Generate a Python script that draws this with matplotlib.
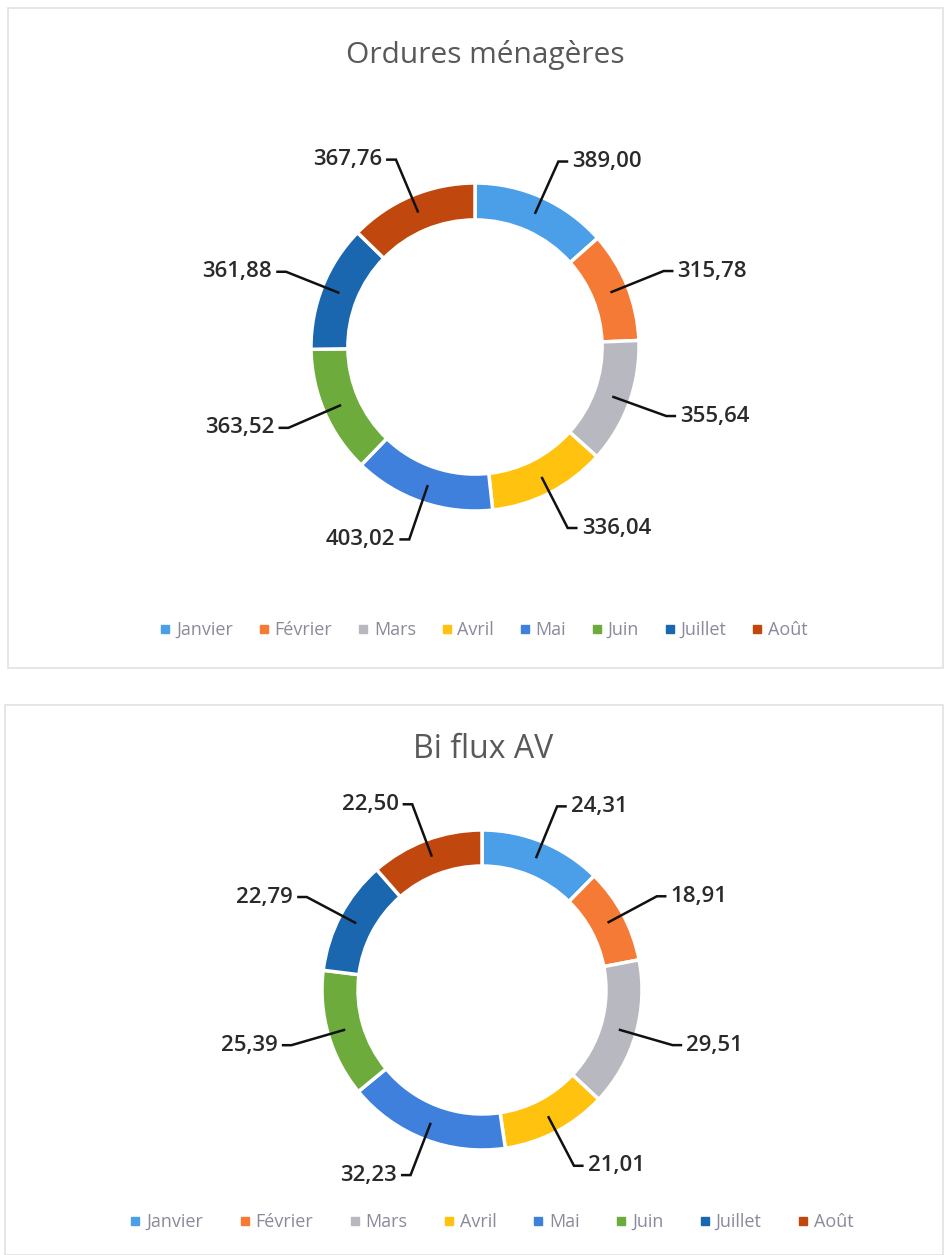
import numpy as np
import matplotlib
matplotlib.use('Agg')
import matplotlib.pyplot as plt
from matplotlib.patches import Rectangle

plt.rcParams['font.family'] = ['Open Sans', 'DejaVu Sans']

months = ['Janvier', 'Février', 'Mars', 'Avril', 'Mai', 'Juin', 'Juillet', 'Août']
colors = ['#4a9fe8', '#f47a35', '#b8b8c0', '#ffc20e', '#3f80dc', '#6dab3c', '#1a67b0', '#c0480f']

titre_om = 'Ordures ménagères'
ordures = [389.00, 315.78, 355.64, 336.04, 403.02, 363.52, 361.88, 367.76]

titre_bf = 'Bi flux AV'
biflux = [24.31, 18.91, 29.51, 21.01, 32.23, 25.39, 22.79, 22.50]

W, H = 944, 1255
fig = plt.figure(figsize=(W / 100, H / 100), dpi=100)


def px_axes(cx, cy, r, half=260):
    # axes centred on pixel (cx, cy), one data unit = r pixels
    ax = fig.add_axes([(cx - half) / W, 1 - (cy + half) / H, 2 * half / W, 2 * half / H])
    return ax, half / r


def donut(ax, lim, values):
    wedges, _ = ax.pie(values, radius=1, startangle=90, counterclock=False,
                       colors=colors,
                       wedgeprops=dict(width=0.225, edgecolor='white', linewidth=2.5))
    for w, v in zip(wedges, values):
        a = np.deg2rad((w.theta1 + w.theta2) / 2)
        c, s = np.cos(a), np.sin(a)
        sign = 1 if c >= 0 else -1
        x0, y0 = 0.89 * c, 0.89 * s
        x1, y1 = 1.24 * c, 1.24 * s
        x2 = x1 + sign * 0.06
        ax.plot([x0, x1, x2], [y0, y1, y1], color='#111111', lw=1.8,
                solid_capstyle='butt', solid_joinstyle='miter')
        ax.text(x2 + sign * 0.025, y1, f'{v:.2f}'.replace('.', ','),
                ha='left' if sign > 0 else 'right', va='center',
                fontsize=16, fontweight='semibold', color='#2a2a2a')
    ax.set_xlim(-lim, lim)
    ax.set_ylim(-lim, lim)
    ax.set_axis_off()


def legend(x_px, y_px, spacing):
    handles = [plt.Line2D([], [], marker='s', ls='', color=c, markersize=6) for c in colors]
    fig.legend(handles, months, loc='center', bbox_to_anchor=(x_px / W, 1 - y_px / H),
               ncol=8, frameon=False, fontsize=13, handletextpad=0.1,
               columnspacing=spacing, handlelength=1.0, labelcolor='#8a8a9a')


# faint chart frames
fig.patches.append(Rectangle((8 / W, 1 - 668 / H), 935 / W, 660 / H, transform=fig.transFigure,
                             fill=False, edgecolor='#e2e2e2', lw=1.2))
fig.patches.append(Rectangle((5 / W, 0), 938 / W, 1 - 705 / H, transform=fig.transFigure,
                             fill=False, edgecolor='#e2e2e2', lw=1.2))

ax1, lim1 = px_axes(475, 347, 164)
donut(ax1, lim1, ordures)
fig.text(485 / W, 1 - 55 / H, titre_om, ha='center', va='center', fontsize=21.5, color='#595959')
legend(482, 630, 1.2)

ax2, lim2 = px_axes(482, 990, 160)
donut(ax2, lim2, biflux)
fig.text(483 / W, 1 - 750 / H, titre_bf, ha='center', va='center', fontsize=23, color='#595959')
legend(490, 1222, 1.8)

fig.savefig('out.png', dpi=100, facecolor='white')
